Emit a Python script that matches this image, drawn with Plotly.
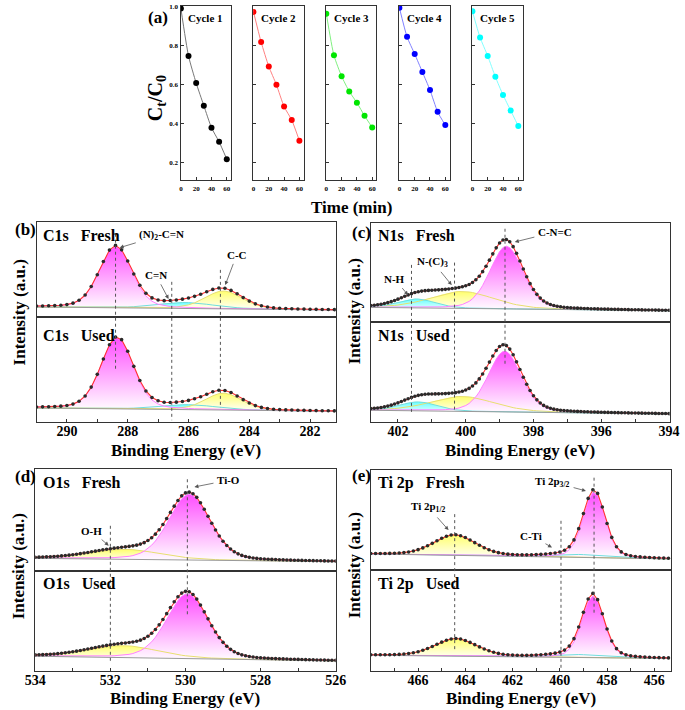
import numpy as np
import plotly.graph_objects as go

W, H = 685, 710
FONT = "Liberation Serif"


def px(x):
    return x / W


def py(y):
    return 1 - y / H


# ---------------- Panel (a): photodegradation cycles ----------------
time_min = [0, 10, 20, 30, 40, 50, 60]
cycle_labels = ["Cycle 1", "Cycle 2", "Cycle 3", "Cycle 4", "Cycle 5"]
ct_c0_cycle1 = [0.99, 0.746, 0.607, 0.491, 0.378, 0.305, 0.216]
ct_c0_cycle2 = [0.972, 0.817, 0.692, 0.598, 0.486, 0.417, 0.311]
ct_c0_cycle3 = [0.963, 0.749, 0.642, 0.564, 0.506, 0.439, 0.379]
ct_c0_cycle4 = [0.993, 0.844, 0.756, 0.664, 0.571, 0.459, 0.391]
ct_c0_cycle5 = [0.975, 0.841, 0.746, 0.639, 0.546, 0.466, 0.386]
cycle_marker_colors = ["#000000", "#ff0000", "#00e600", "#0000ff", "#00ffff"]
cycle_line_colors = ["#777777", "#ff8080", "#80f080", "#8080ff", "#80ffff"]
ct_ticks = [0.2, 0.4, 0.6, 0.8, 1.0]
time_ticks = [0, 20, 40, 60]

# ---------------- XPS fit parameters (a.u.) ----------------
# C1s : (N)2-C=N, C=N, C-C
c1s_kinds = ["magenta", "cyan", "yellow"]
c1s_fresh_center = [288.40, 286.10, 284.85]
c1s_fresh_height = [62, 6, 18]
c1s_fresh_fwhm = [1.25, 2.2, 1.45]
c1s_fresh_baseline = [9.7, 6.7]
c1s_used_center = [288.35, 286.00, 284.85]
c1s_used_height = [72, 5, 17]
c1s_used_fwhm = [1.25, 2.2, 1.4]
c1s_used_baseline = [14.0, 10.7]
c1s_lines = [288.40, 286.55, 284.95]
c1s_range = [291.0, 281.15]
c1s_ticks = [290, 288, 286, 284, 282]

# N1s : C-N=C, N-(C)3, N-H
n1s_kinds = ["magenta", "yellow", "cyan"]
n1s_fresh_center = [398.80, 400.10, 401.45]
n1s_fresh_height = [63, 17, 9]
n1s_fresh_fwhm = [1.15, 2.2, 1.3]
n1s_fresh_baseline = [14.3, 11.0]
n1s_used_center = [398.85, 400.10, 401.40]
n1s_used_height = [61, 15, 9]
n1s_used_fwhm = [1.15, 2.2, 1.3]
n1s_used_baseline = [11.7, 8.0]
n1s_lines = [401.60, 400.33, 398.84]
n1s_range = [402.8, 393.98]
n1s_ticks = [402, 400, 398, 396, 394]

# O1s : Ti-O, O-H
o1s_kinds = ["magenta", "yellow"]
o1s_fresh_center = [529.90, 531.60]
o1s_fresh_height = [66, 10]
o1s_fresh_fwhm = [1.3, 2.2]
o1s_fresh_baseline = [12.3, 9.0]
o1s_used_center = [529.95, 531.65]
o1s_used_height = [65, 12]
o1s_used_fwhm = [1.3, 2.2]
o1s_used_baseline = [14.7, 10.0]
o1s_lines = [532.0, 529.95]
o1s_range = [534.0, 526.0]
o1s_ticks = [534, 532, 530, 528, 526]

# Ti 2p : Ti 2p3/2, Ti 2p1/2, C-Ti
ti_kinds = ["magenta", "yellow", "cyan"]
ti_fresh_center = [458.55, 464.45, 459.30]
ti_fresh_height = [66, 20.5, 3]
ti_fresh_fwhm = [1.1, 2.1, 2.5]
ti_fresh_baseline = [16.0, 11.0]
ti_used_center = [458.60, 464.40, 459.30]
ti_used_height = [62, 17.5, 3]
ti_used_fwhm = [1.1, 2.1, 2.5]
ti_used_baseline = [15.7, 12.4]
ti_lines = [464.45, 459.95, 458.55]
ti_range = [468.0, 455.3]
ti_ticks = [466, 464, 462, 460, 458, 456]

FILL = {
    "magenta": ("#ff4dff", "#ff80ff"),
    "yellow": ("#ffff6e", "#e8df70"),
    "cyan": ("#66ffff", "#70dede"),
}

fig = go.Figure()
layout = dict(
    width=W, height=H, margin=dict(l=0, r=0, t=0, b=0),
    paper_bgcolor="white", plot_bgcolor="white", showlegend=False,
    font=dict(family=FONT, color="black"),
)
annotations = []
shapes = []


def txt(x, y, s, size, xanchor="center", angle=0):
    annotations.append(dict(
        x=px(x), y=py(y), xref="paper", yref="paper", text=s, showarrow=False,
        xanchor=xanchor, yanchor="middle", textangle=angle,
        font=dict(family=FONT, size=size, color="black")))


def arrow(tx, ty, hx, hy, s, size=11):
    annotations.append(dict(
        x=px(hx), y=py(hy), xref="paper", yref="paper", ax=tx - hx, ay=ty - hy,
        text=s, showarrow=True, arrowhead=2, arrowsize=1, arrowwidth=0.8,
        arrowcolor="#555555", standoff=0, startstandoff=2,
        font=dict(family=FONT, size=size, color="black")))


axis_line = dict(showline=True, mirror=True, linecolor="#333333", linewidth=1.3,
                 showgrid=False, zeroline=False, ticklabeloverflow="allow")

# ---------------- Panel (a) ----------------
cycles = [ct_c0_cycle1, ct_c0_cycle2, ct_c0_cycle3, ct_c0_cycle4, ct_c0_cycle5]
a_lefts = [175.7, 250.5, 325.5, 400.8, 476.0]
for i, vals in enumerate(cycles):
    n = i + 1
    xs = "x" if n == 1 else f"x{n}"
    ys = "y" if n == 1 else f"y{n}"
    fig.add_trace(go.Scatter(
        x=time_min, y=vals, xaxis=xs, yaxis=ys, mode="lines+markers",
        line=dict(color=cycle_line_colors[i], width=1, shape="spline", smoothing=0.6),
        marker=dict(color=cycle_marker_colors[i], size=6)))
    layout[f"xaxis{'' if n == 1 else n}"] = dict(
        domain=[px(a_lefts[i]), px(a_lefts[i] + 52)], range=[-0.4, 65.6],
        anchor=ys, tickvals=time_ticks, ticktext=[str(t) for t in time_ticks],
        ticks="inside", ticklen=3, tickcolor="#333333", ticklabelstandoff=1,
        tickfont=dict(family=FONT, size=7, weight="bold", color="black"), **axis_line)
    layout[f"yaxis{'' if n == 1 else n}"] = dict(
        domain=[py(178), py(2.7)], range=[0.108, 1.004], anchor=xs,
        tickvals=ct_ticks, ticktext=[f"{t:.1f}" for t in ct_ticks],
        ticks="inside", ticklen=3, tickcolor="#333333", showticklabels=(n == 1),
        tickfont=dict(family=FONT, size=7, weight="bold", color="black"), **axis_line)
    txt(a_lefts[i] + 26, 15, f"<b>{cycle_labels[i]}</b>", 11)

txt(140, 15, "<b>(a)</b>", 17, xanchor="left")
txt(151, 96, "<b>C<sub>t</sub>/C<sub>0</sub></b>", 20, angle=-90)
txt(352, 205, "<b>Time (min)</b>", 17)


# ---------------- XPS panels ----------------
def pv(x, c, h, w, eta=0.25):
    g = np.exp(-4 * np.log(2) * (x - c) ** 2 / w ** 2)
    lz = 1 / (1 + 4 * (x - c) ** 2 / w ** 2)
    return h * ((1 - eta) * g + eta * lz)


axis_counter = [6]


def add_half(xrng, box, step, baseline, centers, heights, fwhms, kinds, ticks_major):
    n = axis_counter[0]
    axis_counter[0] += 1
    xs, ys = f"x{n}", f"y{n}"
    x0, x1, ytop, ybot = box
    hh = ybot - ytop
    e = np.arange(xrng[0], xrng[1] - 1e-6, -step)
    base = baseline[0] + (baseline[1] - baseline[0]) * (xrng[0] - e) / (xrng[0] - xrng[1])
    comps = [pv(e, c, h, w) for c, h, w in zip(centers, heights, fwhms)]
    env = base + np.sum(comps, axis=0)
    order = sorted(range(len(kinds)), key=lambda k: kinds[k] == "magenta")
    for k in order:
        top = base + comps[k]
        fc, lc = FILL[kinds[k]]
        fig.add_trace(go.Scatter(
            x=np.concatenate([e, e[::-1]]), y=np.concatenate([top, base[::-1]]),
            xaxis=xs, yaxis=ys, mode="none", fill="toself",
            fillgradient=dict(type="vertical", colorscale=[[0, "#ffffff"], [1, fc]]),
            hoverinfo="skip"))
    for k in order:
        fc, lc = FILL[kinds[k]]
        fig.add_trace(go.Scatter(x=e, y=base + comps[k], xaxis=xs, yaxis=ys, mode="lines",
                                 line=dict(color=lc, width=1)))
    fig.add_trace(go.Scatter(x=e, y=base, xaxis=xs, yaxis=ys, mode="lines",
                             line=dict(color="#9a9a9a", width=1)))
    fig.add_trace(go.Scatter(x=e, y=env, xaxis=xs, yaxis=ys, mode="lines",
                             line=dict(color="#ff3030", width=1.1)))
    fig.add_trace(go.Scatter(x=e, y=env, xaxis=xs, yaxis=ys, mode="markers",
                             marker=dict(color="#2a2a2a", size=3.6)))
    xa = dict(domain=[px(x0), px(x1)], range=xrng, anchor=ys, **axis_line)
    if ticks_major is not None:
        lo, hi = int(np.ceil(min(xrng))), int(np.floor(max(xrng)))
        minor_vals = [t for t in range(lo, hi + 1) if t % 2 == 1]
        xa.update(tickvals=ticks_major, ticktext=[str(t) for t in ticks_major],
                  ticks="inside", ticklen=3, tickcolor="#333333", ticklabelstandoff=-4,
                  minor=dict(tickmode="array", tickvals=minor_vals, ticks="inside",
                             ticklen=3, tickcolor="#333333"),
                  tickfont=dict(family=FONT, size=14, weight="bold", color="black"))
    else:
        xa.update(showticklabels=False, ticks="")
    layout[f"xaxis{n}"] = xa
    layout[f"yaxis{n}"] = dict(domain=[py(ybot), py(ytop)], range=[0, hh], anchor=xs,
                               showticklabels=False, ticks="", **axis_line)
    return xs


def xps_panel(xrng, ticks_major, x0, x1, ytop, ymid, ybot, step, fresh, used, lines, line_spans):
    add_half(xrng, (x0, x1, ytop, ymid), step, *fresh, None)
    xb = add_half(xrng, (x0, x1, ymid, ybot), step, *used, ticks_major)
    for lx, (ya, yb) in zip(lines, line_spans):
        shapes.append(dict(type="line", xref=xb, yref="paper", x0=lx, x1=lx,
                           y0=py(ya), y1=py(yb),
                           line=dict(color="#555555", width=1, dash="dot")))


# (b) C1s
xps_panel(c1s_range, c1s_ticks, 27.3, 335.7, 220, 315, 420.7, 0.2,
          (c1s_fresh_baseline, c1s_fresh_center, c1s_fresh_height, c1s_fresh_fwhm, c1s_kinds),
          (c1s_used_baseline, c1s_used_center, c1s_used_height, c1s_used_fwhm, c1s_kinds),
          c1s_lines, [(231.7, 370), (280, 419), (268, 406.7)])
# (c) N1s
xps_panel(n1s_range, n1s_ticks, 371.7, 679.5, 220.7, 320, 420.7, 0.1,
          (n1s_fresh_baseline, n1s_fresh_center, n1s_fresh_height, n1s_fresh_fwhm, n1s_kinds),
          (n1s_used_baseline, n1s_used_center, n1s_used_height, n1s_used_fwhm, n1s_kinds),
          n1s_lines, [(263, 411.7), (260.7, 408.3), (226.7, 363.3)])
# (d) O1s
xps_panel(o1s_range, o1s_ticks, 26.0, 335.5, 468.3, 570, 670.7, 0.1,
          (o1s_fresh_baseline, o1s_fresh_center, o1s_fresh_height, o1s_fresh_fwhm, o1s_kinds),
          (o1s_used_baseline, o1s_used_center, o1s_used_height, o1s_used_fwhm, o1s_kinds),
          o1s_lines, [(525, 663.3), (478.3, 615)])
# (e) Ti 2p
xps_panel(ti_range, ti_ticks, 371.7, 680.7, 469, 569.3, 670.7, 0.2,
          (ti_fresh_baseline, ti_fresh_center, ti_fresh_height, ti_fresh_fwhm, ti_kinds),
          (ti_used_baseline, ti_used_center, ti_used_height, ti_used_fwhm, ti_kinds),
          ti_lines, [(513.3, 650), (520, 668.3), (476.7, 615)])

NB = "\u00a0"
# panel letters and labels
txt(3, 227, "<b>(b)</b>", 17, xanchor="left")
txt(350, 230, "<b>(c)</b>", 17, xanchor="left")
txt(3, 476, "<b>(d)</b>", 17, xanchor="left")
txt(350, 475, "<b>(e)</b>", 17, xanchor="left")

txt(31.7, 233.5, f"<b>C1s{NB*3}Fresh</b>", 16, xanchor="left")
txt(31.7, 334, f"<b>C1s{NB*3}Used</b>", 16, xanchor="left")
txt(377, 233.5, f"<b>N1s{NB*3}Fresh</b>", 16, xanchor="left")
txt(377, 334, f"<b>N1s{NB*3}Used</b>", 16, xanchor="left")
txt(31.7, 481.7, f"<b>O1s{NB*3}Fresh</b>", 16, xanchor="left")
txt(31.7, 583.3, f"<b>O1s{NB*3}Used</b>", 16, xanchor="left")
txt(377, 481.7, f"<b>Ti 2p{NB*3}Fresh</b>", 16, xanchor="left")
txt(377, 583.3, f"<b>Ti 2p{NB*3}Used</b>", 16, xanchor="left")

for cx, cy in [(10, 311), (355, 310), (9, 566), (355, 565)]:
    txt(cx, cy, "<b>Intensity (a.u.)</b>", 17, angle=-90)
for cx, cy in [(181.5, 449), (525.6, 449), (180.7, 698), (526.2, 698)]:
    txt(cx, cy, "<b>Binding Energy (eV)</b>", 17)

# peak annotations
arrow(155, 233, 113, 245.7, "<b>(N)<sub>2</sub>-C=N</b>")
arrow(150.7, 273.3, 163.3, 297.3, "<b>C=N</b>")
arrow(233.3, 252.7, 221.7, 283.3, "<b>C-C</b>")
arrow(560, 230, 520, 240, "<b>C-N=C</b>")
arrow(436, 260, 455, 283.3, "<b>N-(C)<sub>3</sub></b>")
arrow(396.7, 277.3, 410, 293.3, "<b>N-H</b>")
arrow(224, 479.3, 190, 486, "<b>Ti-O</b>")
arrow(84.5, 530, 101.7, 545, "<b>O-H</b>")
arrow(560, 481, 593.3, 490, "<b>Ti 2p<sub>3/2</sub></b>")
arrow(431.7, 506.7, 451.7, 529.3, "<b>Ti 2p<sub>1/2</sub></b>")
arrow(537.5, 535, 558.3, 546.7, "<b>C-Ti</b>")

layout["annotations"] = annotations
layout["shapes"] = shapes
fig.update_layout(**layout)
fig.write_html("out.html", config={"displayModeBar": False},
               post_script="document.body.style.margin='0px';")
